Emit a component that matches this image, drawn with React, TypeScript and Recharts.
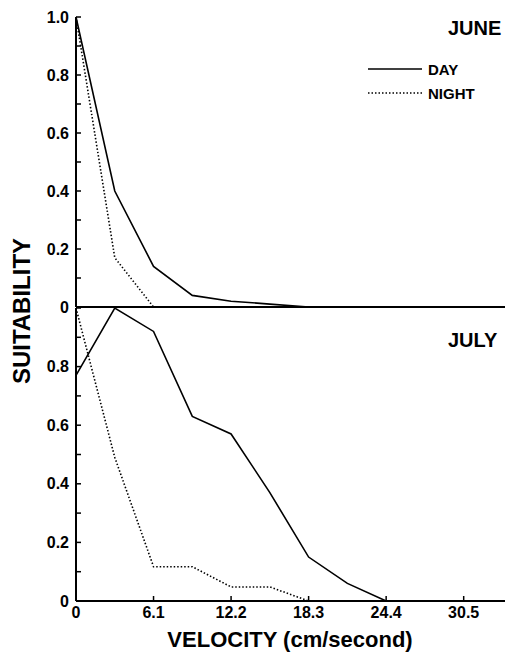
import { LineChart, Line, XAxis, YAxis, Legend } from "recharts";

const velocity = [0, 3.05, 6.1, 9.15, 12.2, 15.25, 18.3, 21.35, 24.4];
const juneDay = [1.0, 0.4, 0.14, 0.04, 0.02, 0.01, 0, null, null];
const juneNight = [1.0, 0.17, 0, null, null, null, null, null, null];
const julyDay = [0.77, 1.0, 0.92, 0.63, 0.57, 0.37, 0.15, 0.06, 0];
const julyNight = [1.0, 0.49, 0.117, 0.117, 0.048, 0.048, 0, null, null];

const xTicks = [0, 6.1, 12.2, 18.3, 24.4, 30.5];
const yTicks = [0, 0.1, 0.2, 0.3, 0.4, 0.5, 0.6, 0.7, 0.8, 0.9, 1.0];

const FONT = '"Liberation Sans", Arial, Helvetica, sans-serif';

const juneData = velocity.map((v, i) => ({ v, day: juneDay[i], night: juneNight[i] }));
const julyData = velocity.map((v, i) => ({ v, day: julyDay[i], night: julyNight[i] }));

const fmtTop = (v: number) => {
  const t = Math.round(v * 10);
  if (t % 2 !== 0) return "";
  return t === 0 ? "0" : v.toFixed(1);
};
const fmtBottom = (v: number) => {
  const t = Math.round(v * 10);
  if (t % 2 !== 0 || t === 10) return "";
  return t === 0 ? "0" : v.toFixed(1);
};

const tickStyle = { fill: "#000", fontSize: 16, fontWeight: 700, fontFamily: FONT };
const axisLine = { stroke: "#000", strokeWidth: 2 };
const tickLine = { stroke: "#000", strokeWidth: 1.5 };

const LegendBox = () => (
  <div style={{ fontFamily: FONT, fontWeight: 700, fontSize: 15, color: "#000" }}>
    {[
      { name: "DAY", dash: undefined },
      { name: "NIGHT", dash: "1.5 2" },
    ].map((it) => (
      <div key={it.name} style={{ display: "flex", alignItems: "center", height: 24 }}>
        <svg width={58} height={6} style={{ marginRight: 4 }}>
          <line x1={2} y1={3} x2={56} y2={3} stroke="#000" strokeWidth={1.4} strokeDasharray={it.dash} />
        </svg>
        <span>{it.name}</span>
      </div>
    ))}
  </div>
);

export default function App() {
  return (
    <div style={{ position: "relative", width: 505, height: 655, background: "#fff", overflow: "hidden" }}>
      <style>{`body{margin:0}`}</style>

      <div style={{ position: "absolute", left: 0, top: 0 }}>
        <LineChart width={505} height={330} data={juneData} margin={{ top: 17, right: 0, bottom: 0, left: 0 }}>
          <XAxis
            dataKey="v"
            type="number"
            domain={[0, 33.75]}
            ticks={xTicks}
            height={23}
            tick={false}
            tickSize={-5}
            axisLine={axisLine}
            tickLine={tickLine}
          />
          <YAxis
            type="number"
            domain={[0, 1]}
            ticks={yTicks}
            width={76}
            tickSize={-5}
            tickMargin={12}
            tickFormatter={fmtTop}
            tick={tickStyle}
            axisLine={axisLine}
            tickLine={tickLine}
            interval={0}
          />
          <Legend
            layout="horizontal"
            verticalAlign="middle"
            align="center"
            content={<LegendBox />}
            wrapperStyle={{ top: 57, left: 366, width: 140 }}
          />
          <Line dataKey="day" stroke="#000" strokeWidth={1.6} dot={false} isAnimationActive={false} />
          <Line dataKey="night" stroke="#000" strokeWidth={1.6} strokeDasharray="1.5 2" dot={false} isAnimationActive={false} />
        </LineChart>
      </div>

      <div style={{ position: "absolute", left: 0, top: 300 }}>
        <LineChart width={505} height={355} data={julyData} margin={{ top: 8, right: 0, bottom: 0, left: 0 }}>
          <XAxis
            dataKey="v"
            type="number"
            domain={[0, 33.75]}
            ticks={xTicks}
            height={54}
            tickSize={-5}
            tickMargin={11}
            tick={tickStyle}
            axisLine={axisLine}
            tickLine={tickLine}
            interval={0}
          />
          <YAxis
            type="number"
            domain={[0, 1]}
            ticks={yTicks}
            width={76}
            tickSize={-5}
            tickMargin={12}
            tickFormatter={fmtBottom}
            tick={tickStyle}
            axisLine={axisLine}
            tickLine={tickLine}
            interval={0}
          />
          <Line dataKey="day" stroke="#000" strokeWidth={1.6} dot={false} isAnimationActive={false} />
          <Line dataKey="night" stroke="#000" strokeWidth={1.6} strokeDasharray="1.5 2" dot={false} isAnimationActive={false} />
        </LineChart>
      </div>

      <div style={{ position: "absolute", left: 448, top: 17, fontFamily: FONT, fontWeight: 700, fontSize: 20, lineHeight: "22px", whiteSpace: "nowrap" }}>
        JUNE
      </div>
      <div style={{ position: "absolute", left: 448, top: 329, fontFamily: FONT, fontWeight: 700, fontSize: 20, lineHeight: "22px", whiteSpace: "nowrap" }}>
        JULY
      </div>
      <div
        style={{
          position: "absolute",
          left: 22,
          top: 311,
          transform: "translate(-50%, -50%) rotate(-90deg)",
          fontFamily: FONT,
          fontWeight: 700,
          fontSize: 24,
          lineHeight: "26px",
          whiteSpace: "nowrap",
        }}
      >
        SUITABILITY
      </div>
      <div
        style={{
          position: "absolute",
          left: 290,
          top: 640,
          transform: "translate(-50%, -50%)",
          fontFamily: FONT,
          fontWeight: 700,
          fontSize: 22,
          lineHeight: "24px",
          whiteSpace: "nowrap",
        }}
      >
        VELOCITY (cm/second)
      </div>
    </div>
  );
}
